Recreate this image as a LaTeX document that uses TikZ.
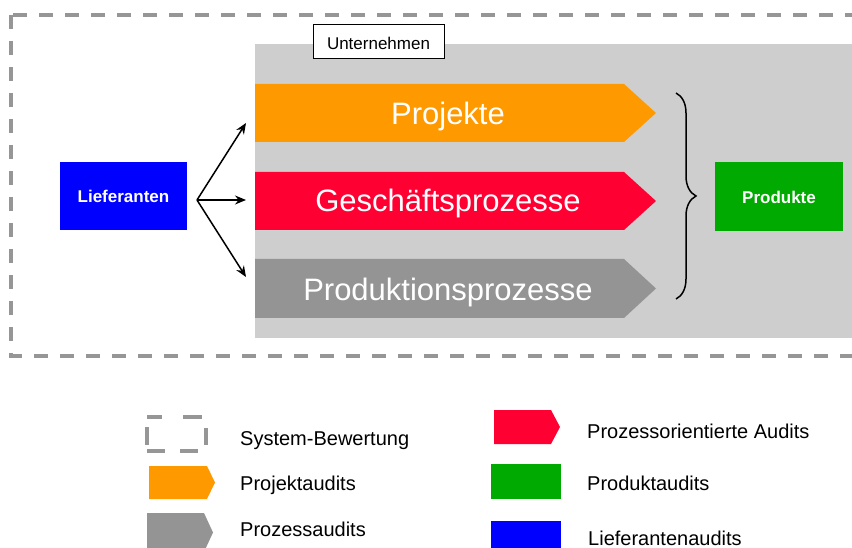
\documentclass[tikz,border=0pt]{standalone}
\usepackage{fontspec}
\setmainfont{Liberation Sans}
\usetikzlibrary{arrows.meta,decorations.pathreplacing}
\definecolor{bggray}{RGB}{206,206,206}
\definecolor{dashgray}{RGB}{150,150,150}
\definecolor{aorange}{RGB}{255,153,0}
\definecolor{ared}{RGB}{255,0,51}
\definecolor{agray}{RGB}{148,148,148}
\definecolor{agreen}{RGB}{0,170,0}
\definecolor{ablue}{RGB}{0,0,255}
\newcommand{\chevshape}[6]{\fill[#1] (#2,#3) -- (#4,#3) -- (#5,{(#3+#6)/2}) -- (#4,#6) -- (#2,#6) -- cycle;}
\begin{document}
\begin{tikzpicture}[x=1pt,y=-1pt,
  sysframe/.style={draw=dashgray,line width=4pt,dash pattern=on 14pt off 12pt},
  legdash/.style={draw=dashgray,line width=4pt},
  bigtxt/.style={text=white,anchor=base,inner sep=0pt,font=\fontsize{31}{36}\selectfont},
  boxtxt/.style={text=white,font=\fontsize{17}{20}\selectfont\bfseries,text height=13.5pt,text depth=0pt},
  legtxt/.style={anchor=base west,inner sep=0pt,font=\fontsize{20}{24}\selectfont},
  arr/.style={line width=1.5pt,-{Stealth[length=11pt,width=9pt]}},
  brc/.style={line width=1.5pt,decorate,decoration={brace,amplitude=20pt}}
]
\clip (0,0) rectangle (852,548);
\fill[white] (0,0) rectangle (852,548);
% system frame
\draw[sysframe] (11,15) rectangle (900,356);
% company background
\fill[bggray] (255,44) rectangle (860,338);
\node[draw=black,fill=white,line width=1pt,minimum width=131pt,minimum height=34pt,inner sep=0pt,
  text height=14.6pt,text depth=0pt,font=\fontsize{17}{20}\selectfont] (unt) at (378.5,42) {Unternehmen};
% chevrons
\chevshape{aorange}{255}{84}{624}{656}{142}
\chevshape{ared}{255}{172}{624}{656}{230}
\chevshape{agray}{255}{259}{624}{656}{318}
\node[bigtxt] (proj) at (448,125) {Projekte};
\node[bigtxt] (gesch) at (448,211.7) {Geschäftsprozesse};
\node[bigtxt] (prod) at (448,300.5) {Produktionsprozesse};
% supplier and products
\node[fill=ablue,minimum width=127pt,minimum height=68pt,inner sep=0pt,boxtxt] (lief) at (123.5,196) {Lieferanten};
\node[fill=agreen,minimum width=128pt,minimum height=69pt,inner sep=0pt,boxtxt] (produkte) at (779,196.5) {Produkte};
% arrows
\coordinate (fan) at (197,200);
\coordinate (t1) at (246,123);
\coordinate (t2) at (246,200);
\coordinate (t3) at (246,277);
\draw[arr] (fan) -- (t1);
\draw[arr] (fan) -- (t2);
\draw[arr] (fan) -- (t3);
% brace
\coordinate (bt) at (676,93);
\coordinate (bb) at (676,299);
\draw[brc] (bt) -- (bb);
% legend
\draw[legdash] (147,417) -- (162,417) (183,417) -- (202,417)
               (147,451) -- (165,451) (180,451) -- (198,451)
               (147,427) -- (147,445) (206,428) -- (206,445);
\node[legtxt] (l1) at (240,445) {System-Bewertung};
\chevshape{aorange}{149}{466}{207}{215}{499}
\node[legtxt] (l2) at (240,490.5) {Projektaudits};
\chevshape{agray}{147}{513}{204}{213}{552}
\node[legtxt] (l3) at (240,536.5) {Prozessaudits};
\chevshape{ared}{494}{410}{551}{560}{444}
\node[legtxt] (l4) at (587,438) {Prozessorientierte Audits};
\fill[agreen] (491,464) rectangle (561,499);
\node[legtxt] (l5) at (587,490) {Produktaudits};
\fill[ablue] (491,521) rectangle (561,552);
\node[legtxt] (l6) at (588,545) {Lieferantenaudits};
\end{tikzpicture}
\end{document}
